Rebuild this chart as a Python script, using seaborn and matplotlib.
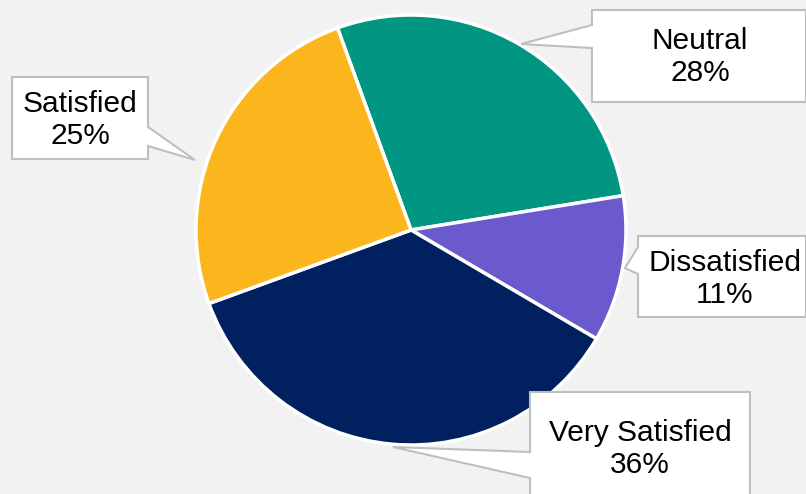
import matplotlib
matplotlib.use("Agg")
import matplotlib.pyplot as plt
import seaborn as sns
from matplotlib.patches import Polygon

sns.set_theme(style="white")
plt.rcParams['font.family'] = ['Liberation Sans', 'DejaVu Sans']

categories = ["Neutral", "Dissatisfied", "Very Satisfied", "Satisfied"]
values = [28, 11, 36, 25]
colors = ["#009682", "#6A5ACD", "#002060", "#FBB61E"]

W, H = 806, 494
fig = plt.figure(figsize=(W / 100, H / 100), dpi=100)
fig.patch.set_facecolor("#F2F2F2")
ax = fig.add_axes([0, 0, 1, 1])
ax.set_facecolor("#F2F2F2")

def Y(y):
    return H - y

cx, cy, r = 411, 230, 215
wedges, _ = ax.pie(values, colors=colors, startangle=110, counterclock=False,
                   center=(cx, Y(cy)), radius=r,
                   wedgeprops=dict(edgecolor="white", linewidth=2.5))

callouts = {
    "Satisfied": ([(12, 77), (148, 77), (148, 127), (195, 160), (148, 146), (148, 159), (12, 159)], (80, 120)),
    "Neutral": ([(592, 10), (806, 10), (806, 102), (592, 102), (592, 48), (521, 44), (592, 25)], (700, 57)),
    "Dissatisfied": ([(638, 236), (806, 236), (806, 317), (638, 317), (638, 274), (625, 268), (638, 247)], (725, 279)),
    "Very Satisfied": ([(530, 392), (750, 392), (750, 500), (530, 500), (530, 478), (393, 447), (530, 452)], (640, 449)),
}
for name, (pts, (tx, ty)) in callouts.items():
    poly = Polygon([(x, Y(y)) for x, y in pts], closed=True, facecolor="white",
                   edgecolor="#BFBFBF", linewidth=1.5, zorder=5)
    ax.add_patch(poly)
    v = values[categories.index(name)]
    ax.text(tx, Y(ty), f"{name}\n{v}%", ha="center", va="center", fontsize=21.5,
            color="#000000", zorder=6, linespacing=1.15)

ax.set_xlim(0, W)
ax.set_ylim(0, H)
ax.set_aspect("equal", adjustable="box")
ax.axis("off")

fig.savefig("out.png", dpi=100, facecolor=fig.get_facecolor())
